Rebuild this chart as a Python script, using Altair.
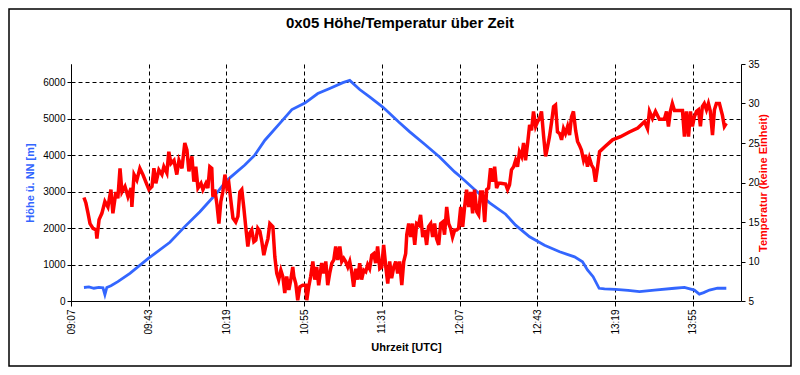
import altair as alt
import pandas as pd

# Time axis: minutes elapsed since 09:07 UTC
tick_offsets = [0, 36, 72, 108, 144, 180, 216, 252, 288]
tick_labels = ["09:07", "09:43", "10:19", "10:55", "11:31", "12:07", "12:43", "13:19", "13:55"]
x_max = 310.3

# Altitude (m) series
alt_t = [6.0, 8.3, 10.6, 12.9, 14.8, 15.7, 16.6, 18.5, 21.7, 27.3, 36.1, 45.8, 52.7, 59.7,
         66.6, 72.2, 80.5, 85.1, 89.8, 96.7, 102.3, 108.3, 114.3, 119.8, 125.9, 129.1,
         133.7, 138.3, 144.4, 151.8, 156.9, 163.8, 170.7, 177.7, 180.5, 186.9, 193.9,
         201.3, 205.9, 212.4, 219.3, 226.3, 233.2, 236.9, 239.2, 241.8, 244.6, 247.1,
         252.2, 258.0, 263.3, 270.2, 279.5, 284.1, 288.7, 291.0, 293.0, 295.7, 299.4, 303.5]
alt_v = [370, 385, 350, 375, 360, 170, 370, 420, 530, 760, 1180, 1610, 2040, 2450,
         2900, 3310, 3730, 4000, 4410, 4870, 5250, 5430, 5690, 5830, 5990, 6050,
         5800, 5600, 5320, 4910, 4640, 4300, 3950, 3540, 3400, 3060, 2690,
         2380, 2080, 1760, 1530, 1350, 1210, 1077, 850, 666, 348, 330,
         320, 290, 255, 300, 350, 375, 300, 190, 230, 300, 350, 350]

# Temperature series (no unit)
temp_t = [6.0, 6.9, 7.9, 8.8, 10.2, 11.6, 12.0, 13.0, 14.3, 15.7, 17.1, 18.5, 19.4, 20.8,
          21.7, 22.7, 23.6, 25.0, 26.4, 27.8, 28.2, 29.2, 30.5, 31.9, 33.3, 35.2, 36.1,
          37.5, 38.4, 39.3, 40.7, 42.1, 43.0, 44.4, 45.3, 46.3, 47.7, 49.0, 50.0, 51.4,
          52.7, 53.7, 54.6, 56.0, 56.9, 57.8, 58.8, 60.2, 61.1, 62.5, 63.4, 64.3, 65.2,
          65.7, 66.6, 67.6, 68.5, 69.4, 70.3, 71.3, 72.2, 73.1, 74.0, 75.0, 76.3, 77.3,
          78.2, 79.1, 80.0, 81.0, 81.9, 82.8, 83.7, 84.7, 85.6, 86.5, 87.5, 88.4, 89.3,
          90.2, 91.2, 92.1, 93.5, 94.4, 95.3, 96.2, 97.2, 98.1, 99.0, 99.9, 100.9, 101.8,
          102.7, 103.2, 104.1, 105.0, 106.0, 107.3, 108.7, 109.2, 110.1, 111.0, 112.0,
          112.9, 113.8, 114.7, 116.1, 117.1, 118.0, 118.9, 119.8, 120.8, 121.7, 122.6,
          123.5, 124.5, 125.4, 126.3, 127.2, 128.2, 129.1, 130.0, 130.9, 131.9, 132.8,
          133.7, 134.6, 135.6, 136.5, 137.4, 138.3, 139.3, 140.2, 141.1, 142.0, 143.0,
          143.9, 144.8, 145.8, 146.7, 147.6, 148.5, 149.5, 150.4, 151.3, 152.2, 153.2,
          154.1, 155.0, 155.5, 156.4, 157.3, 158.2, 159.2, 160.1, 161.0, 161.9, 162.9,
          163.8, 164.7, 165.6, 166.6, 167.5, 168.4, 169.3, 170.3, 171.2, 172.1, 173.0,
          174.0, 174.9, 175.8, 176.7, 177.7, 178.6, 179.5, 180.5, 181.4, 182.3, 183.2,
          184.2, 185.1, 186.0, 186.9, 187.9, 188.8, 189.7, 190.6, 191.6, 192.5, 193.4,
          194.3, 195.3, 196.2, 197.1, 198.0, 199.0, 201.3, 202.2, 203.1, 204.0, 205.0,
          205.9, 206.8, 207.7, 208.7, 209.6, 210.5, 211.5, 212.4, 213.3, 214.2, 215.2,
          216.1, 217.0, 217.9, 218.9, 219.8, 220.7, 221.6, 222.6, 223.5, 224.4, 225.3,
          226.3, 227.2, 228.1, 229.0, 230.0, 230.9, 231.8, 232.7, 233.7, 234.6, 235.5,
          236.4, 237.4, 238.3, 239.2, 240.1, 241.1, 242.0, 242.9, 243.8, 244.8, 247.1,
          250.8, 254.5, 258.6, 262.5, 265.6, 267.0, 267.9, 269.3, 270.7, 272.5, 274.8,
          275.8, 276.7, 277.6, 278.5, 279.5, 283.2, 284.1, 285.0, 286.0, 286.9, 287.8,
          288.7, 289.7, 290.6, 291.5, 292.4, 293.3, 294.3, 295.2, 296.1, 297.1, 298.0,
          298.9, 300.3, 301.7, 302.6, 303.5]
temp_v = [18.1, 17.4, 16.1, 14.8, 14.2, 14.0, 12.9, 15.3, 16.1, 17.6, 16.9, 19.1, 16.1, 18.8,
          18.0, 21.8, 18.8, 19.5, 18.2, 19.3, 16.9, 21.0, 20.3, 21.8, 21.0, 19.7, 19.1,
          19.5, 21.8, 19.9, 21.6, 21.0, 22.0, 21.2, 23.9, 22.4, 22.8, 21.0, 22.8, 21.8,
          25.0, 24.1, 21.4, 23.3, 20.1, 22.0, 19.3, 19.9, 19.1, 19.9, 19.3, 22.0, 21.8,
          18.2, 19.1, 17.2, 14.8, 17.6, 18.8, 21.0, 19.3, 19.9, 17.8, 15.5, 15.0, 15.7,
          18.8, 19.1, 16.9, 14.2, 11.9, 13.6, 14.0, 12.5, 12.7, 14.2, 13.8, 12.5, 10.8,
          11.9, 12.9, 14.8, 14.4, 10.6, 8.5, 7.7, 8.9, 8.1, 6.0, 8.1, 6.4, 7.7,
          9.3, 8.1, 7.2, 5.1, 6.8, 7.0, 7.0, 5.1, 6.8, 8.1, 10.0,
          7.7, 9.3, 7.0, 9.8, 8.5, 10.0, 7.0, 8.5, 9.8, 10.2, 11.9,
          10.2, 11.9, 10.0, 10.4, 10.0, 9.3, 10.0, 8.7, 6.8, 9.1, 7.7,
          9.8, 7.7, 8.9, 8.7, 9.6, 9.1, 10.8, 11.0, 9.8, 11.9, 9.1,
          9.3, 12.1, 9.3, 7.2, 10.0, 7.9, 9.3, 10.0, 8.5, 10.0, 7.0,
          10.0, 11.0, 13.4, 14.8, 13.1, 14.8, 12.1, 14.8, 14.6, 15.9, 13.1,
          14.0, 12.1, 14.4, 14.8, 13.1, 14.8, 12.9, 12.1, 14.8, 15.0, 13.4,
          16.9, 14.8, 14.2, 13.1, 14.0, 14.0, 14.2, 16.9, 14.4, 16.9, 19.1,
          16.9, 18.8, 16.1, 19.1, 16.3, 15.9, 18.8, 18.8, 15.0, 19.1, 19.3,
          21.8, 20.1, 22.0, 19.3, 19.9, 19.9, 19.8, 19.1, 19.7, 21.6, 22.0,
          22.8, 22.0, 23.9, 23.3, 25.0, 22.8, 25.0, 27.3, 26.6, 29.0, 27.1,
          27.7, 28.1, 29.0, 25.8, 23.3, 24.5, 25.8, 27.7, 29.6, 29.8, 26.4,
          26.2, 25.4, 26.8, 26.2, 27.1, 26.0, 28.3, 29.0, 26.6, 25.2, 24.7,
          24.1, 22.8, 23.5, 22.0, 23.1, 22.2, 21.8, 20.1, 21.8, 23.9, 24.5,
          25.4, 25.8, 26.4, 26.9, 27.7, 26.8, 29.0, 28.1, 29.0, 28.0, 28.0,
          29.0, 27.1, 29.0, 30.0, 29.1, 29.1, 25.8, 29.0, 25.8, 29.0, 27.1,
          28.3, 29.0, 29.2, 27.1, 29.6, 30.0, 29.2, 30.0, 29.0, 26.0, 29.2,
          30.0, 30.0, 28.5, 27.1, 27.5]

alt_ticks = [0, 1000, 2000, 3000, 4000, 5000, 6000]
temp_ticks = [5, 10, 15, 20, 25, 30, 35]

BLUE = "#3366FF"
RED = "#FF0000"
FONT = "Liberation Sans"

df_alt = pd.DataFrame({"t": alt_t, "h": alt_v})
df_temp = pd.DataFrame({"t": temp_t, "T": temp_v})

label_expr = "[" + ",".join("'%s'" % s for s in tick_labels) + "][indexof([" + \
    ",".join(str(v) for v in tick_offsets) + "], datum.value)]"

x_enc = alt.X(
    "t:Q",
    scale=alt.Scale(domain=[0, x_max], nice=False, zero=False),
    axis=alt.Axis(
        values=tick_offsets, labelExpr=label_expr, labelAngle=270,
        title="Uhrzeit [UTC]", titlePadding=7, grid=True, gridDash=[4, 3],
        gridColor="black", gridOpacity=1, gridWidth=1,
        tickSize=5, labelPadding=3,
    ),
)

line_alt = alt.Chart(df_alt).mark_line(color=BLUE, strokeWidth=2.8).encode(
    x=x_enc,
    y=alt.Y(
        "h:Q",
        scale=alt.Scale(domain=[0, 6500], nice=False),
        axis=alt.Axis(
            values=alt_ticks, format="d", title="Höhe ü. NN [m]", titleColor=BLUE,
            grid=True, gridDash=[4, 3], gridColor="black", gridOpacity=1,
            tickSize=4, labelPadding=2, titlePadding=7,
        ),
    ),
    order="t:Q",
)

line_temp = alt.Chart(df_temp).mark_line(color=RED, strokeWidth=3.5).encode(
    x=alt.X("t:Q"),
    y=alt.Y(
        "T:Q",
        scale=alt.Scale(domain=[5, 35], nice=False, zero=False),
        axis=alt.Axis(
            orient="right", values=temp_ticks, format="d",
            title="Temperatur (keine Einheit)",
            titleColor=RED, titleAngle=270, grid=False, tickSize=4,
            labelPadding=3, titlePadding=9,
        ),
    ),
    order="t:Q",
)

frame = alt.Chart(pd.DataFrame({"k": [0]})).mark_rect(
    fill=None, stroke="black", strokeWidth=1.5
).encode(
    x=alt.value(-62), x2=alt.value(720), y=alt.value(-55), y2=alt.value(302)
)

chart = (
    alt.layer(line_alt, line_temp, frame)
    .resolve_scale(y="independent")
    .properties(
        width=670, height=237,
        padding={"left": 63, "top": 56, "right": 51, "bottom": 66},
        autosize=alt.AutoSizeParams(type="none"),
        title=alt.Title(
            "0x05 Höhe/Temperatur über Zeit", fontSize=15, fontWeight="bold",
            font=FONT, color="black", anchor="middle", frame="group", offset=-23, dx=-6,
        ),
    )
    .configure_view(stroke=None)
    .configure_axis(
        labelFont=FONT, titleFont=FONT, labelFontSize=10, titleFontSize=11,
        titleFontWeight="bold", labelColor="black", titleColor="black",
        domainColor="black", tickColor="black", domainWidth=1, tickWidth=1,
    )
)

chart.save("out.html", embed_options={"renderer": "svg", "actions": False})
